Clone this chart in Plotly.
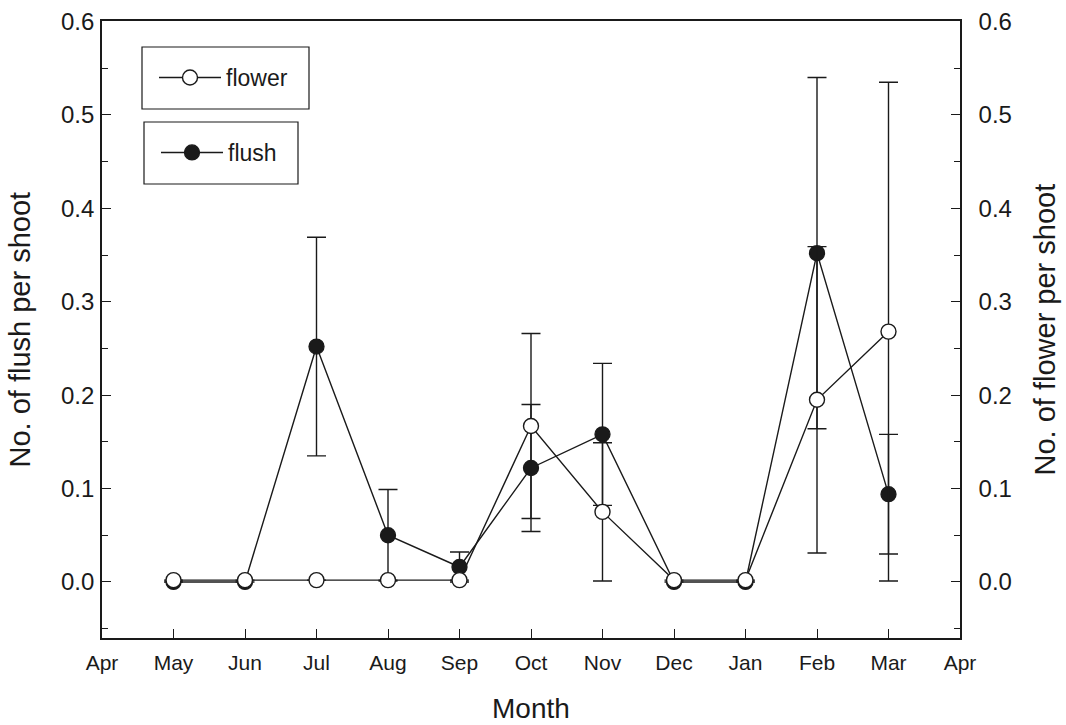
import plotly.graph_objects as go

months = ["Apr", "May", "Jun", "Jul", "Aug", "Sep", "Oct", "Nov", "Dec", "Jan", "Feb", "Mar", "Apr"]
month_pos = list(range(len(months)))

obs_months = ["May", "Jun", "Jul", "Aug", "Sep", "Oct", "Nov", "Dec", "Jan", "Feb", "Mar"]
flush_mean = [0.0, 0.0, 0.252, 0.050, 0.016, 0.122, 0.158, 0.0, 0.0, 0.352, 0.094]
flush_err = [0.0, 0.0, 0.117, 0.049, 0.016, 0.068, 0.076, 0.0, 0.0, 0.188, 0.064]
flower_mean = [0.002, 0.002, 0.002, 0.002, 0.002, 0.167, 0.075, 0.002, 0.002, 0.195, 0.268]
flower_err = [0.0, 0.0, 0.0, 0.0, 0.0, 0.099, 0.074, 0.0, 0.0, 0.164, 0.267]

y_ticks = [0.0, 0.1, 0.2, 0.3, 0.4, 0.5, 0.6]
y_range = [-0.06, 0.6005]

x_title = "Month"
y_title_left = "No. of flush per shoot"
y_title_right = "No. of flower per shoot"

x_obs = [months.index(m) for m in obs_months]

FONT = "Liberation Sans, Arial, sans-serif"
INK = "#1a1a1a"

W, H = 1066, 725
# plot area in page pixels (body margin removed via post_script)
PL, PR, PT, PB = 102, 960, 21, 638
L, R, T, B = PL, W - PR, PT, H - PB
pw, ph = PR - PL, PB - PT

def px(x):
    return (x - PL) / pw

def py(y):
    return (PB - y) / ph

fig = go.Figure()
fig.add_trace(go.Scatter(
    x=x_obs, y=flush_mean, name="flush", mode="lines+markers",
    line=dict(color=INK, width=1.4),
    marker=dict(symbol="circle", size=15, color=INK, line=dict(color=INK, width=1.3)),
    error_y=dict(type="data", array=flush_err, symmetric=True, color=INK, thickness=1.4, width=9.5),
    legend="legend2",
))
fig.add_trace(go.Scatter(
    x=x_obs, y=flower_mean, name="flower", mode="lines+markers", yaxis="y2",
    line=dict(color=INK, width=1.4),
    marker=dict(symbol="circle", size=15, color="white", line=dict(color=INK, width=1.4)),
    error_y=dict(type="data", array=flower_err, symmetric=True, color=INK, thickness=1.4, width=9.5),
    legend="legend",
))

axis_common = dict(
    showgrid=False, zeroline=False, showline=True, linecolor=INK, linewidth=1.6,
    ticks="inside", ticklen=9, tickwidth=1.4, tickcolor=INK, automargin=False,
    ticklabeloverflow="allow",
)

minor_y = dict(dtick=0.05, tick0=0, ticks="inside", ticklen=6, tickwidth=1.3, tickcolor=INK)

fig.update_layout(
    width=W, height=H,
    margin=dict(l=L, r=R, t=T, b=B),
    paper_bgcolor="white", plot_bgcolor="white",
    font=dict(family=FONT, color=INK),
    xaxis=dict(
        **axis_common, range=[0, 12], tickvals=month_pos, ticktext=months,
        tickfont=dict(size=21), mirror=True, ticklabelstandoff=5,
    ),
    yaxis=dict(
        **axis_common, range=y_range, tickvals=y_ticks, tickformat=".1f",
        tickfont=dict(size=24), ticklabelstandoff=1, minor=minor_y,
    ),
    yaxis2=dict(
        **axis_common, range=y_range, tickvals=y_ticks, tickformat=".1f",
        overlaying="y", side="right",
        tickfont=dict(size=24), ticklabelstandoff=12, minor=minor_y,
    ),
    legend=dict(
        x=px(154), y=py(56), xanchor="left", yanchor="top",
        bgcolor="rgba(0,0,0,0)", borderwidth=0, font=dict(size=23), itemwidth=62,
    ),
    legend2=dict(
        x=px(156), y=py(131), xanchor="left", yanchor="top",
        bgcolor="rgba(0,0,0,0)", borderwidth=0, font=dict(size=23), itemwidth=62,
    ),
    shapes=[
        dict(type="rect", xref="paper", yref="paper",
             x0=px(142), x1=px(309), y0=py(109), y1=py(47),
             line=dict(color=INK, width=1.2), fillcolor="rgba(0,0,0,0)"),
        dict(type="rect", xref="paper", yref="paper",
             x0=px(144), x1=px(298), y0=py(184), y1=py(122),
             line=dict(color=INK, width=1.2), fillcolor="rgba(0,0,0,0)"),
    ],
    annotations=[
        dict(text=x_title, xref="paper", yref="paper", x=px(531), y=py(708.5),
             xanchor="center", yanchor="middle", showarrow=False, font=dict(size=28)),
        dict(text=y_title_left, xref="paper", yref="paper", x=px(19), y=py(329.5),
             xanchor="center", yanchor="middle", showarrow=False, textangle=-90,
             font=dict(size=29)),
        dict(text=y_title_right, xref="paper", yref="paper", x=px(1044), y=py(329.5),
             xanchor="center", yanchor="middle", showarrow=False, textangle=-90,
             font=dict(size=29)),
    ],
    showlegend=True,
)

fig.write_html(
    "out.html",
    config={"displayModeBar": False},
    post_script="document.body.style.margin='0';document.body.style.overflow='hidden';",
)
